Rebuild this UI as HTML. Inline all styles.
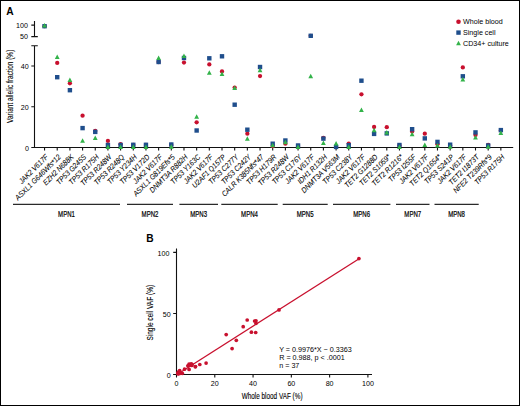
<!DOCTYPE html>
<html><head><meta charset="utf-8"><style>
html,body{margin:0;padding:0;background:#fff;}
svg{display:block;}
text{font-family:"Liberation Sans", sans-serif;fill:#000;}
</style></head><body>
<svg width="520" height="406" viewBox="0 0 520 406">
<rect x="0" y="0" width="520" height="406" fill="#fff"/>
<rect x="0.5" y="0.5" width="519" height="405" fill="none" stroke="#000" stroke-width="1"/>
<path d="M34.5 21 V36.6 M31.3 25.1 H34.5 M31.3 36.6 H37.8 M31.3 45.7 H37.8 M34.5 45.7 V147.5 M31.3 106.78 H34.5 M31.3 66.06 H34.5 M31.3 147.5 H513.2 M44.55 147.5 V150.6 M57.22 147.5 V150.6 M69.90 147.5 V150.6 M82.58 147.5 V150.6 M95.25 147.5 V150.6 M107.92 147.5 V150.6 M120.60 147.5 V150.6 M133.28 147.5 V150.6 M145.95 147.5 V150.6 M158.62 147.5 V150.6 M171.30 147.5 V150.6 M183.98 147.5 V150.6 M196.65 147.5 V150.6 M209.32 147.5 V150.6 M222.00 147.5 V150.6 M234.68 147.5 V150.6 M247.35 147.5 V150.6 M260.03 147.5 V150.6 M272.70 147.5 V150.6 M285.38 147.5 V150.6 M298.05 147.5 V150.6 M310.73 147.5 V150.6 M323.40 147.5 V150.6 M336.08 147.5 V150.6 M348.75 147.5 V150.6 M361.43 147.5 V150.6 M374.10 147.5 V150.6 M386.78 147.5 V150.6 M399.45 147.5 V150.6 M412.13 147.5 V150.6 M424.80 147.5 V150.6 M437.48 147.5 V150.6 M450.15 147.5 V150.6 M462.83 147.5 V150.6 M475.50 147.5 V150.6 M488.18 147.5 V150.6 M500.85 147.5 V150.6" stroke="#111" stroke-width="1.1" fill="none"/>
<text transform="translate(27.9 28.1) scale(0.9 1)" font-size="7.9" text-anchor="end">100</text>
<text transform="translate(27.9 39.3) scale(0.9 1)" font-size="7.9" text-anchor="end">50</text>
<text transform="translate(28.6 69.26) scale(0.9 1)" font-size="7.9" text-anchor="end">40</text>
<text transform="translate(28.6 109.98) scale(0.9 1)" font-size="7.9" text-anchor="end">20</text>
<text transform="translate(28.9 150.5) scale(0.9 1)" font-size="7.9" text-anchor="end">0</text>
<text x="6.3" y="14.5" font-size="10.2" font-weight="bold">A</text>
<text transform="translate(13.0 86.3) rotate(-90) scale(0.775 1)" font-size="8.4" stroke="#000" stroke-width="0.12" text-anchor="middle">Variant allelic fraction (%)</text>
<text transform="translate(48.75 157.50) rotate(-45) scale(0.89 1)" font-size="7.6" font-style="italic" stroke="#000" stroke-width="0.07" text-anchor="end">JAK2 V617F</text>
<text transform="translate(61.42 157.50) rotate(-45) scale(0.89 1)" font-size="7.6" font-style="italic" stroke="#000" stroke-width="0.07" text-anchor="end">ASXL1 G646Wfs*12</text>
<text transform="translate(74.10 157.50) rotate(-45) scale(0.89 1)" font-size="7.6" font-style="italic" stroke="#000" stroke-width="0.07" text-anchor="end">EZH2 N688K</text>
<text transform="translate(86.78 157.50) rotate(-45) scale(0.89 1)" font-size="7.6" font-style="italic" stroke="#000" stroke-width="0.07" text-anchor="end">TP53 G245S</text>
<text transform="translate(99.45 157.50) rotate(-45) scale(0.89 1)" font-size="7.6" font-style="italic" stroke="#000" stroke-width="0.07" text-anchor="end">TP53 R175H</text>
<text transform="translate(112.12 157.50) rotate(-45) scale(0.89 1)" font-size="7.6" font-style="italic" stroke="#000" stroke-width="0.07" text-anchor="end">TP53 R248W</text>
<text transform="translate(124.80 157.50) rotate(-45) scale(0.89 1)" font-size="7.6" font-style="italic" stroke="#000" stroke-width="0.07" text-anchor="end">TP53 R248Q</text>
<text transform="translate(137.47 157.50) rotate(-45) scale(0.89 1)" font-size="7.6" font-style="italic" stroke="#000" stroke-width="0.07" text-anchor="end">TP53 Y234H</text>
<text transform="translate(150.15 157.50) rotate(-45) scale(0.89 1)" font-size="7.6" font-style="italic" stroke="#000" stroke-width="0.07" text-anchor="end">TP53 V172D</text>
<text transform="translate(162.82 157.50) rotate(-45) scale(0.89 1)" font-size="7.6" font-style="italic" stroke="#000" stroke-width="0.07" text-anchor="end">JAK2 V617F</text>
<text transform="translate(175.50 157.50) rotate(-45) scale(0.89 1)" font-size="7.6" font-style="italic" stroke="#000" stroke-width="0.07" text-anchor="end">ASXL1 G819Efs*5</text>
<text transform="translate(188.18 157.50) rotate(-45) scale(0.89 1)" font-size="7.6" font-style="italic" stroke="#000" stroke-width="0.07" text-anchor="end">DNMT3A R882H</text>
<text transform="translate(200.85 157.50) rotate(-45) scale(0.89 1)" font-size="7.6" font-style="italic" stroke="#000" stroke-width="0.07" text-anchor="end">TP53 Y163C</text>
<text transform="translate(213.52 157.50) rotate(-45) scale(0.89 1)" font-size="7.6" font-style="italic" stroke="#000" stroke-width="0.07" text-anchor="end">JAK2 V617F</text>
<text transform="translate(226.20 157.50) rotate(-45) scale(0.89 1)" font-size="7.6" font-style="italic" stroke="#000" stroke-width="0.07" text-anchor="end">U2AF1 Q157P</text>
<text transform="translate(238.88 157.50) rotate(-45) scale(0.89 1)" font-size="7.6" font-style="italic" stroke="#000" stroke-width="0.07" text-anchor="end">TP53 C277Y</text>
<text transform="translate(251.55 157.50) rotate(-45) scale(0.89 1)" font-size="7.6" font-style="italic" stroke="#000" stroke-width="0.07" text-anchor="end">TP53 C242Y</text>
<text transform="translate(264.23 157.50) rotate(-45) scale(0.89 1)" font-size="7.6" font-style="italic" stroke="#000" stroke-width="0.07" text-anchor="end">CALR K385Nfs*47</text>
<text transform="translate(276.90 157.50) rotate(-45) scale(0.89 1)" font-size="7.6" font-style="italic" stroke="#000" stroke-width="0.07" text-anchor="end">TP53 H179R</text>
<text transform="translate(289.57 157.50) rotate(-45) scale(0.89 1)" font-size="7.6" font-style="italic" stroke="#000" stroke-width="0.07" text-anchor="end">TP53 R248W</text>
<text transform="translate(302.25 157.50) rotate(-45) scale(0.89 1)" font-size="7.6" font-style="italic" stroke="#000" stroke-width="0.07" text-anchor="end">TP53 C176Y</text>
<text transform="translate(314.93 157.50) rotate(-45) scale(0.89 1)" font-size="7.6" font-style="italic" stroke="#000" stroke-width="0.07" text-anchor="end">JAK2 V617F</text>
<text transform="translate(327.60 157.50) rotate(-45) scale(0.89 1)" font-size="7.6" font-style="italic" stroke="#000" stroke-width="0.07" text-anchor="end">IDH1 R132H</text>
<text transform="translate(340.28 157.50) rotate(-45) scale(0.89 1)" font-size="7.6" font-style="italic" stroke="#000" stroke-width="0.07" text-anchor="end">DNMT3A V563M</text>
<text transform="translate(352.95 157.50) rotate(-45) scale(0.89 1)" font-size="7.6" font-style="italic" stroke="#000" stroke-width="0.07" text-anchor="end">TP53 C238Y</text>
<text transform="translate(365.62 157.50) rotate(-45) scale(0.89 1)" font-size="7.6" font-style="italic" stroke="#000" stroke-width="0.07" text-anchor="end">JAK2 V617F</text>
<text transform="translate(378.30 157.50) rotate(-45) scale(0.89 1)" font-size="7.6" font-style="italic" stroke="#000" stroke-width="0.07" text-anchor="end">TET2 G1288D</text>
<text transform="translate(390.98 157.50) rotate(-45) scale(0.89 1)" font-size="7.6" font-style="italic" stroke="#000" stroke-width="0.07" text-anchor="end">TET2 S1059*</text>
<text transform="translate(403.65 157.50) rotate(-45) scale(0.89 1)" font-size="7.6" font-style="italic" stroke="#000" stroke-width="0.07" text-anchor="end">TET2 R1216*</text>
<text transform="translate(416.33 157.50) rotate(-45) scale(0.89 1)" font-size="7.6" font-style="italic" stroke="#000" stroke-width="0.07" text-anchor="end">TP53 I255F</text>
<text transform="translate(429.00 157.50) rotate(-45) scale(0.89 1)" font-size="7.6" font-style="italic" stroke="#000" stroke-width="0.07" text-anchor="end">JAK2 V617F</text>
<text transform="translate(441.68 157.50) rotate(-45) scale(0.89 1)" font-size="7.6" font-style="italic" stroke="#000" stroke-width="0.07" text-anchor="end">TET2 Q1654*</text>
<text transform="translate(454.35 157.50) rotate(-45) scale(0.89 1)" font-size="7.6" font-style="italic" stroke="#000" stroke-width="0.07" text-anchor="end">TP53 S241P</text>
<text transform="translate(467.03 157.50) rotate(-45) scale(0.89 1)" font-size="7.6" font-style="italic" stroke="#000" stroke-width="0.07" text-anchor="end">JAK2 V617F</text>
<text transform="translate(479.70 157.50) rotate(-45) scale(0.89 1)" font-size="7.6" font-style="italic" stroke="#000" stroke-width="0.07" text-anchor="end">TET2 I1873T</text>
<text transform="translate(492.38 157.50) rotate(-45) scale(0.89 1)" font-size="7.6" font-style="italic" stroke="#000" stroke-width="0.07" text-anchor="end">NFE2 T239Rfs*9</text>
<text transform="translate(505.05 157.50) rotate(-45) scale(0.89 1)" font-size="7.6" font-style="italic" stroke="#000" stroke-width="0.07" text-anchor="end">TP53 R175H</text>
<path d="M13 204.4 H120 M127 204.4 H173 M179.4 204.4 H218 M221.3 204.4 H277.7 M282.7 204.4 H327.7 M333 204.4 H390.4 M396 204.4 H429.5 M434.5 204.4 H478.7" stroke="#2a2a2a" stroke-width="1.1" fill="none"/>
<text transform="translate(66.50 216.6) scale(0.72 1)" font-size="8.4" stroke="#000" stroke-width="0.22" text-anchor="middle">MPN1</text>
<text transform="translate(150.00 216.6) scale(0.72 1)" font-size="8.4" stroke="#000" stroke-width="0.22" text-anchor="middle">MPN2</text>
<text transform="translate(198.70 216.6) scale(0.72 1)" font-size="8.4" stroke="#000" stroke-width="0.22" text-anchor="middle">MPN3</text>
<text transform="translate(249.50 216.6) scale(0.72 1)" font-size="8.4" stroke="#000" stroke-width="0.22" text-anchor="middle">MPN4</text>
<text transform="translate(305.20 216.6) scale(0.72 1)" font-size="8.4" stroke="#000" stroke-width="0.22" text-anchor="middle">MPN5</text>
<text transform="translate(361.70 216.6) scale(0.72 1)" font-size="8.4" stroke="#000" stroke-width="0.22" text-anchor="middle">MPN6</text>
<text transform="translate(412.75 216.6) scale(0.72 1)" font-size="8.4" stroke="#000" stroke-width="0.22" text-anchor="middle">MPN7</text>
<text transform="translate(456.60 216.6) scale(0.72 1)" font-size="8.4" stroke="#000" stroke-width="0.22" text-anchor="middle">MPN8</text>
<g fill="#c8102e"><circle cx="44.55" cy="26.2" r="2.15"/><circle cx="57.22" cy="62.9" r="2.15"/><circle cx="69.90" cy="83.3" r="2.15"/><circle cx="82.58" cy="115.7" r="2.15"/><circle cx="95.25" cy="130.9" r="2.15"/><circle cx="107.92" cy="140.9" r="2.15"/><circle cx="120.60" cy="144.2" r="2.15"/><circle cx="133.28" cy="145.0" r="2.15"/><circle cx="145.95" cy="145.0" r="2.15"/><circle cx="158.62" cy="62.0" r="2.15"/><circle cx="171.30" cy="145.0" r="2.15"/><circle cx="183.98" cy="62.6" r="2.15"/><circle cx="196.65" cy="122.3" r="2.15"/><circle cx="209.32" cy="64.4" r="2.15"/><circle cx="222.00" cy="71.5" r="2.15"/><circle cx="234.68" cy="87.6" r="2.15"/><circle cx="247.35" cy="133.7" r="2.15"/><circle cx="260.03" cy="76.1" r="2.15"/><circle cx="272.70" cy="146.0" r="2.15"/><circle cx="285.38" cy="143.7" r="2.15"/><circle cx="298.05" cy="146.0" r="2.15"/><circle cx="310.73" cy="35.8" r="2.15"/><circle cx="323.40" cy="137.8" r="2.15"/><circle cx="336.08" cy="147.0" r="2.15"/><circle cx="348.75" cy="143.6" r="2.15"/><circle cx="361.43" cy="94.3" r="2.15"/><circle cx="374.10" cy="127.0" r="2.15"/><circle cx="386.78" cy="127.2" r="2.15"/><circle cx="399.45" cy="145.5" r="2.15"/><circle cx="412.13" cy="131.5" r="2.15"/><circle cx="424.80" cy="133.7" r="2.15"/><circle cx="437.48" cy="144.3" r="2.15"/><circle cx="450.15" cy="145.5" r="2.15"/><circle cx="462.83" cy="67.4" r="2.15"/><circle cx="475.50" cy="135.0" r="2.15"/><circle cx="488.18" cy="145.0" r="2.15"/><circle cx="500.85" cy="130.5" r="2.15"/></g>
<g fill="#1f4e8c"><rect x="42.35" y="24.00" width="4.4" height="4.4"/><rect x="55.02" y="75.00" width="4.4" height="4.4"/><rect x="67.70" y="88.00" width="4.4" height="4.4"/><rect x="80.38" y="125.90" width="4.4" height="4.4"/><rect x="93.05" y="129.70" width="4.4" height="4.4"/><rect x="105.72" y="142.80" width="4.4" height="4.4"/><rect x="118.40" y="142.80" width="4.4" height="4.4"/><rect x="131.08" y="142.60" width="4.4" height="4.4"/><rect x="143.75" y="142.60" width="4.4" height="4.4"/><rect x="156.43" y="59.80" width="4.4" height="4.4"/><rect x="169.10" y="142.30" width="4.4" height="4.4"/><rect x="181.78" y="55.80" width="4.4" height="4.4"/><rect x="194.45" y="128.30" width="4.4" height="4.4"/><rect x="207.12" y="56.10" width="4.4" height="4.4"/><rect x="219.80" y="54.10" width="4.4" height="4.4"/><rect x="232.48" y="102.50" width="4.4" height="4.4"/><rect x="245.15" y="127.50" width="4.4" height="4.4"/><rect x="257.83" y="64.80" width="4.4" height="4.4"/><rect x="270.50" y="141.50" width="4.4" height="4.4"/><rect x="283.18" y="138.30" width="4.4" height="4.4"/><rect x="295.85" y="143.30" width="4.4" height="4.4"/><rect x="308.53" y="33.60" width="4.4" height="4.4"/><rect x="321.20" y="136.40" width="4.4" height="4.4"/><rect x="333.88" y="144.70" width="4.4" height="4.4"/><rect x="346.55" y="143.00" width="4.4" height="4.4"/><rect x="359.23" y="78.50" width="4.4" height="4.4"/><rect x="371.90" y="131.70" width="4.4" height="4.4"/><rect x="384.58" y="131.20" width="4.4" height="4.4"/><rect x="397.25" y="142.80" width="4.4" height="4.4"/><rect x="409.93" y="127.00" width="4.4" height="4.4"/><rect x="422.60" y="136.20" width="4.4" height="4.4"/><rect x="435.28" y="139.70" width="4.4" height="4.4"/><rect x="447.95" y="142.50" width="4.4" height="4.4"/><rect x="460.63" y="74.10" width="4.4" height="4.4"/><rect x="473.30" y="130.20" width="4.4" height="4.4"/><rect x="485.98" y="143.30" width="4.4" height="4.4"/><rect x="498.65" y="127.90" width="4.4" height="4.4"/></g>
<path fill="#33b34a" d="M42.15 27.45 L44.55 22.95 L46.95 27.45Z M54.82 58.95 L57.22 54.45 L59.62 58.95Z M67.50 81.95 L69.90 77.45 L72.30 81.95Z M80.17 142.85 L82.58 138.35 L84.98 142.85Z M92.85 140.05 L95.25 135.55 L97.65 140.05Z M105.52 148.95 L107.92 144.45 L110.33 148.95Z M118.20 148.95 L120.60 144.45 L123.00 148.95Z M130.88 148.95 L133.28 144.45 L135.68 148.95Z M143.55 148.95 L145.95 144.45 L148.35 148.95Z M156.22 59.95 L158.62 55.45 L161.03 59.95Z M168.90 148.75 L171.30 144.25 L173.70 148.75Z M181.58 58.05 L183.98 53.55 L186.38 58.05Z M194.25 118.85 L196.65 114.35 L199.05 118.85Z M206.92 74.75 L209.32 70.25 L211.72 74.75Z M219.60 75.95 L222.00 71.45 L224.40 75.95Z M232.28 89.95 L234.68 85.45 L237.08 89.95Z M244.95 140.85 L247.35 136.35 L249.75 140.85Z M257.63 72.15 L260.03 67.65 L262.43 72.15Z M270.30 147.15 L272.70 142.65 L275.10 147.15Z M282.98 144.25 L285.38 139.75 L287.77 144.25Z M295.65 148.95 L298.05 144.45 L300.45 148.95Z M308.33 78.35 L310.73 73.85 L313.12 78.35Z M321.00 145.05 L323.40 140.55 L325.80 145.05Z M333.68 145.45 L336.08 140.95 L338.48 145.45Z M346.35 148.95 L348.75 144.45 L351.15 148.95Z M359.03 111.95 L361.43 107.45 L363.82 111.95Z M371.70 132.25 L374.10 127.75 L376.50 132.25Z M384.38 134.45 L386.78 129.95 L389.18 134.45Z M397.05 148.95 L399.45 144.45 L401.85 148.95Z M409.73 136.25 L412.13 131.75 L414.53 136.25Z M422.40 146.95 L424.80 142.45 L427.20 146.95Z M435.08 147.45 L437.48 142.95 L439.88 147.45Z M447.75 148.75 L450.15 144.25 L452.55 148.75Z M460.43 81.45 L462.83 76.95 L465.23 81.45Z M473.10 139.45 L475.50 134.95 L477.90 139.45Z M485.78 148.75 L488.18 144.25 L490.57 148.75Z M498.45 134.95 L500.85 130.45 L503.25 134.95Z"/>
<circle cx="458.5" cy="21.8" r="2.3" fill="#c8102e"/>
<rect x="456.3" y="30.4" width="4.4" height="4.4" fill="#1f4e8c"/>
<path d="M456.1 45.2 L458.5 40.8 L460.9 45.2Z" fill="#33b34a"/>
<text x="463" y="24.3" font-size="7.15">Whole blood</text>
<text x="463" y="35.0" font-size="7.15">Single cell</text>
<text x="463" y="45.7" font-size="7.15">CD34+ culture</text>
<text x="146.2" y="241.8" font-size="10.2" font-weight="bold">B</text>
<path d="M176.5 248.5 V377.6 M173.1 374.5 H372 M173.2 374.50 H176.5 M173.2 313.45 H176.5 M173.2 252.40 H176.5 M176.50 374.5 V377.6 M214.78 374.5 V377.6 M253.06 374.5 V377.6 M291.34 374.5 V377.6 M329.62 374.5 V377.6 M367.90 374.5 V377.6" stroke="#111" stroke-width="1.1" fill="none"/>
<text transform="translate(169.4 255.49999999999997) scale(0.9 1)" font-size="7.9" text-anchor="end">100</text>
<text transform="translate(170.6 316.55) scale(0.9 1)" font-size="7.9" text-anchor="end">50</text>
<text transform="translate(170.6 377.6) scale(0.9 1)" font-size="7.9" text-anchor="end">0</text>
<text transform="translate(176.50 386.1) scale(0.9 1)" font-size="7.9" text-anchor="middle">0</text>
<text transform="translate(214.78 386.1) scale(0.9 1)" font-size="7.9" text-anchor="middle">20</text>
<text transform="translate(253.06 386.1) scale(0.9 1)" font-size="7.9" text-anchor="middle">40</text>
<text transform="translate(291.34 386.1) scale(0.9 1)" font-size="7.9" text-anchor="middle">60</text>
<text transform="translate(329.62 386.1) scale(0.9 1)" font-size="7.9" text-anchor="middle">80</text>
<text transform="translate(367.90 386.1) scale(0.9 1)" font-size="7.9" text-anchor="middle">100</text>
<text transform="translate(153.2 312.7) rotate(-90) scale(0.78 1)" font-size="8.4" stroke="#000" stroke-width="0.12" text-anchor="middle">Single cell VAF (%)</text>
<text transform="translate(272.1 399.4) scale(0.76 1)" font-size="8.4" stroke="#000" stroke-width="0.12" text-anchor="middle">Whole blood VAF (%)</text>
<line x1="177.07" y1="374.55" x2="359.10" y2="258.71" stroke="#c8102e" stroke-width="1.3"/>
<g fill="#c8102e"><circle cx="358.90" cy="258.60" r="1.85"/><circle cx="255.70" cy="332.50" r="1.85"/><circle cx="236.30" cy="340.30" r="1.85"/><circle cx="206.10" cy="363.10" r="1.85"/><circle cx="191.66" cy="365.46" r="1.85"/><circle cx="182.29" cy="373.30" r="1.85"/><circle cx="179.19" cy="373.30" r="1.85"/><circle cx="178.44" cy="373.18" r="1.85"/><circle cx="178.44" cy="373.18" r="1.85"/><circle cx="256.00" cy="323.30" r="1.85"/><circle cx="178.44" cy="373.00" r="1.85"/><circle cx="256.00" cy="320.80" r="1.85"/><circle cx="199.80" cy="364.50" r="1.85"/><circle cx="254.60" cy="321.00" r="1.85"/><circle cx="247.20" cy="320.00" r="1.85"/><circle cx="232.10" cy="348.60" r="1.85"/><circle cx="189.04" cy="364.15" r="1.85"/><circle cx="243.20" cy="326.70" r="1.85"/><circle cx="178.02" cy="372.53" r="1.85"/><circle cx="179.66" cy="370.61" r="1.85"/><circle cx="178.02" cy="373.58" r="1.85"/><circle cx="279.00" cy="309.90" r="1.85"/><circle cx="184.50" cy="369.20" r="1.85"/><circle cx="178.02" cy="373.58" r="1.85"/><circle cx="179.76" cy="373.42" r="1.85"/><circle cx="226.20" cy="334.60" r="1.85"/><circle cx="195.30" cy="366.80" r="1.85"/><circle cx="195.50" cy="366.50" r="1.85"/><circle cx="178.02" cy="373.30" r="1.85"/><circle cx="191.10" cy="363.85" r="1.85"/><circle cx="189.10" cy="369.40" r="1.85"/><circle cx="179.10" cy="371.45" r="1.85"/><circle cx="178.02" cy="373.12" r="1.85"/><circle cx="251.40" cy="332.20" r="1.85"/><circle cx="187.82" cy="365.76" r="1.85"/><circle cx="178.44" cy="373.58" r="1.85"/><circle cx="192.04" cy="364.39" r="1.85"/></g>
<text x="279.2" y="352.0" font-size="7.2">Y = 0.9976*X − 0.3363</text>
<text x="279.2" y="360.0" font-size="7.2">R = 0.988, p &lt; .0001</text>
<text x="279.2" y="368.0" font-size="7.2">n = 37</text>
</svg>
</body></html>
